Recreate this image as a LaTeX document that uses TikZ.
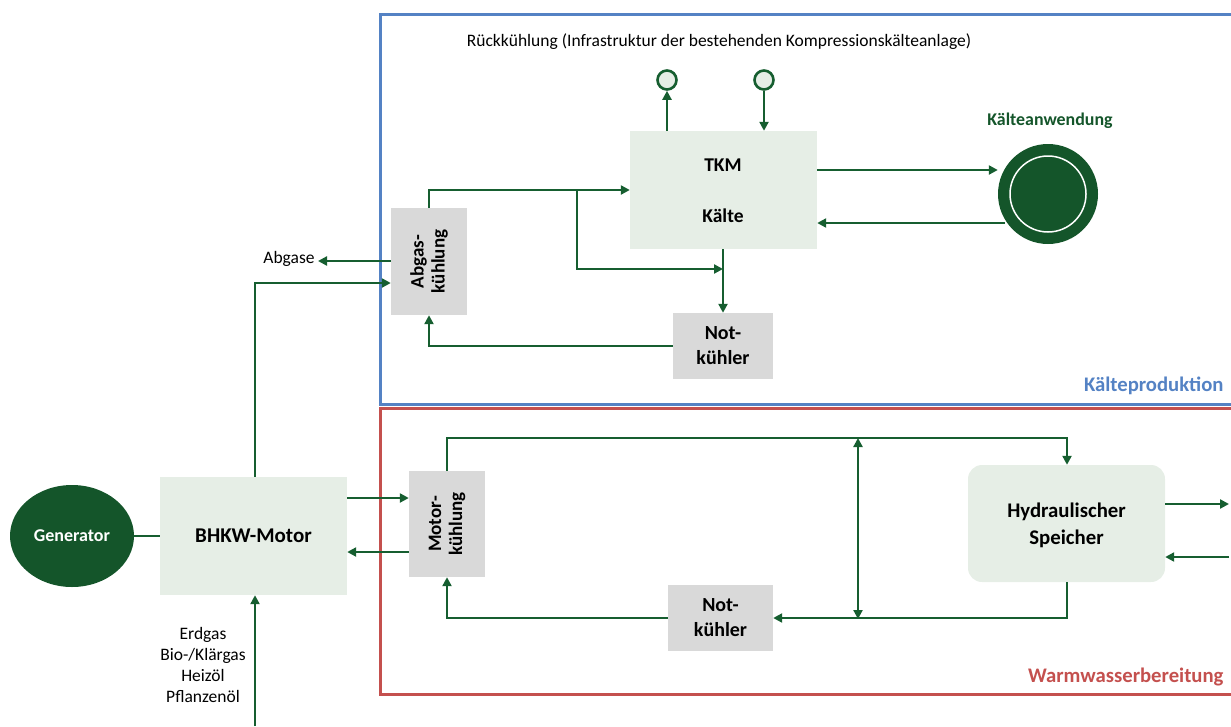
\documentclass[tikz,border=0pt]{standalone}
\usepackage{fontspec}
\setmainfont{Carlito}
\usetikzlibrary{arrows.meta,shapes.geometric}
\definecolor{lg}{RGB}{22,94,48}
\definecolor{dg}{RGB}{20,85,42}
\definecolor{boxl}{RGB}{230,238,230}
\definecolor{boxg}{RGB}{217,217,217}
\definecolor{fblue}{RGB}{84,130,196}
\definecolor{fred}{RGB}{196,80,78}
\tikzset{
  flow/.style={draw=lg, line width=2.8pt, -{Triangle[length=9pt,width=9pt]}},
  plain/.style={draw=lg, line width=2.8pt},
  lbox/.style={fill=boxl, draw=none, inner sep=0pt},
  gbox/.style={fill=boxg, draw=none, inner sep=0pt},
  btxt/.style={font=\bfseries\fontsize{19.5}{22}\selectfont, align=center},
  ntxt/.style={font=\bfseries\fontsize{20}{25}\selectfont, align=center},
  rtxt/.style={rotate=90, font=\bfseries\fontsize{19}{21}\selectfont, align=center},
  stxt/.style={font=\fontsize{17.5}{21}\selectfont, align=center},
}
\begin{document}
\begin{tikzpicture}[x=1pt,y=-1pt]
\useasboundingbox (0,0) rectangle (1231,726);
% frames
\draw[fblue, line width=3pt] (1245,14) -- (380,14) -- (380,404) -- (1245,404);
\draw[fred, line width=3pt] (1245,408) -- (380,408) -- (380,694) -- (1245,694);
\node[anchor=east, text=fblue, font=\bfseries\fontsize{20.7}{22}\selectfont] (kp) at (1227,386) {Kälteproduktion};
\node[anchor=east, text=fred, font=\bfseries\fontsize{20.7}{22}\selectfont] (ww) at (1227,677) {Warmwasserbereitung};

% nodes
\node[stxt] (rk) at (719,42) {Rückkühlung (Infrastruktur der bestehenden Kompressionskälteanlage)};
\node[circle, minimum size=19pt, inner sep=0pt, fill=boxl, draw=lg, line width=2.6pt] (c1) at (667,80) {};
\node[circle, minimum size=19pt, inner sep=0pt, fill=boxl, draw=lg, line width=2.6pt] (c2) at (764,80) {};
\node[lbox, minimum width=187pt, minimum height=118pt] (tkm) at (723.5,190) {};
\node[btxt] (tkmt) at (723,165) {TKM};
\node[btxt] (kt) at (723,216) {Kälte};
\node[circle, fill=dg, minimum size=100pt, inner sep=0pt] (ka) at (1048,194) {};
\node[circle, draw=white, line width=1.5pt, minimum size=76pt, inner sep=0pt] (kai) at (1048,194) {};
\node[text=dg, font=\bfseries\fontsize{17.9}{20}\selectfont] (kal) at (1050,121) {Kälteanwendung};

\node[gbox, minimum width=76pt, minimum height=107pt] (ab) at (429,261.5) {};
\node[rtxt] (abt) at (429,261.5) {Abgas-\\kühlung};
\node[gbox, minimum width=100pt, minimum height=66pt] (nk1) at (723,346) {};
\node[ntxt] (nk1t) at (723,346) {Not-\\kühler};
\coordinate (br1) at (577,190);
\node[stxt] (abg) at (289,259) {Abgase};
\coordinate (abgtip) at (318,261);

\node[lbox, minimum width=187pt, minimum height=118pt] (bhkw) at (253.5,536) {};
\node[font=\bfseries\fontsize{21}{24}\selectfont] (bhkwt) at (253.5,536) {BHKW-Motor};
\node[ellipse, fill=dg, minimum width=124pt, minimum height=102pt, inner sep=0pt] (gen) at (72,536) {};
\node[text=white, font=\bfseries\fontsize{18}{20}\selectfont] (gent) at (72,536) {Generator};
\node[stxt] (fuel) at (203,665) {Erdgas\\Bio-/Klärgas\\Heizöl\\Pflanzenöl};
\coordinate (fuelin) at (255,726);

\node[gbox, minimum width=76pt, minimum height=106pt] (mk) at (447,524) {};
\node[rtxt] (mkt) at (447,524) {Motor-\\kühlung};
\node[gbox, minimum width=105pt, minimum height=66pt] (nk2) at (720.5,618) {};
\node[ntxt] (nk2t) at (720.5,618) {Not-\\kühler};
\node[lbox, rounded corners=14pt, minimum width=197pt, minimum height=117pt] (hs) at (1066.5,523.5) {};
\node[font=\bfseries\fontsize{20.8}{27}\selectfont, align=center] (hst) at (1066.5,525) {Hydraulischer\\Speicher};
\coordinate (hsout) at (1229,504);
\coordinate (hsin) at (1229,557);
\coordinate (top2) at (858,438);
\coordinate (bot2) at (858,619);

% connectors upper
\draw[flow] (tkm.north west -| c1) -- (c1.south);
\draw[flow] (c2.south) -- (tkm.north west -| c2);
\draw[flow] (tkm.east |- 0,170) -- (ka.west |- 0,170);
\draw[flow] (1005,223) -- (tkm.east |- 0,223);
\draw[flow] (ab.north) |- (tkm.west |- br1);
\draw[flow] (br1) |- (723,269);
\draw[flow] (tkm.south -| 723,0) -- (nk1.north);
\draw[flow] (nk1.west) -| (ab.south);
\draw[flow] (ab.west |- 0,261) -- (abgtip);
\draw[flow] (bhkw.north -| 255,0) |- (ab.west |- 0,283);

% connectors lower
\draw[plain] (gen.east) -- (bhkw.west);
\draw[flow] (bhkw.east |- 0,498) -- (mk.west |- 0,498);
\draw[flow] (mk.west |- 0,552) -- (bhkw.east |- 0,552);
\draw[flow] (fuelin) -- (bhkw.south -| fuelin);
\draw[flow] (mk.north) |- (1067,438) -- (hs.north -| 1067,0);
\draw[flow, {Triangle[length=9pt,width=9pt]}-{Triangle[length=9pt,width=9pt]}] (top2) -- (bot2);
\draw[flow] (hs.south -| 1067,0) |- (nk2.east);
\draw[flow] (nk2.west) -| (mk.south);
\draw[flow] (hs.east |- hsout) -- (hsout);
\draw[flow] (hsin) -- (hs.east |- hsin);
\end{tikzpicture}
\end{document}
